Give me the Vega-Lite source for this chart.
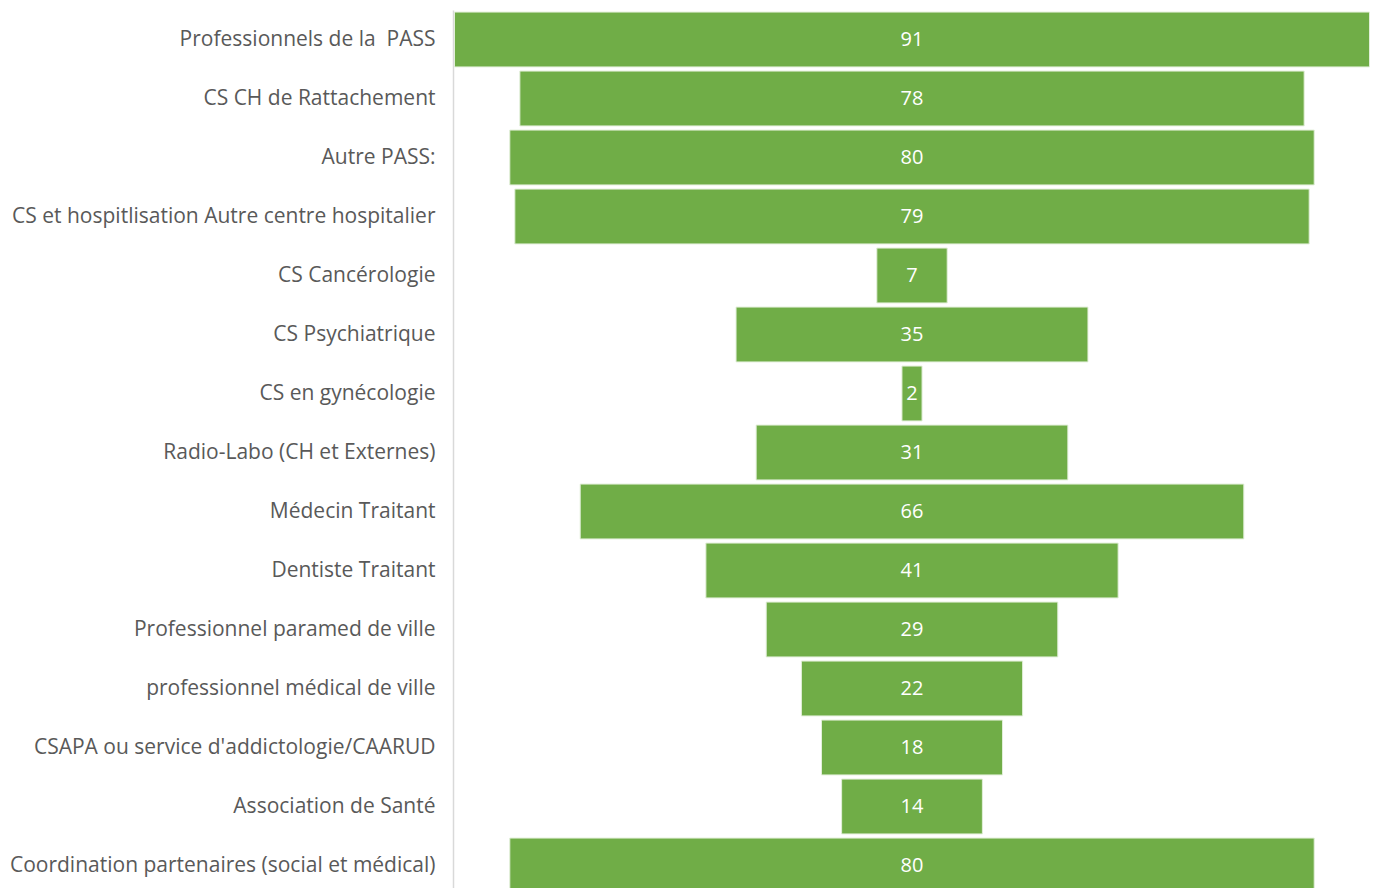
{
  "$schema": "https://vega.github.io/schema/vega-lite/v6.json",
  "autosize": "none",
  "width": 916,
  "height": 878,
  "padding": {"left": 453, "top": 10, "right": 6, "bottom": 0},
  "background": "white",
  "config": {"view": {"stroke": null}, "font": "Open Sans"},
  "data": {"values": [
    {"cat": "Professionnels de la\u00a0 PASS", "n": 91},
    {"cat": "CS CH de Rattachement", "n": 78},
    {"cat": "Autre PASS:", "n": 80},
    {"cat": "CS et hospitlisation Autre centre hospitalier", "n": 79},
    {"cat": "CS Cancérologie", "n": 7},
    {"cat": "CS Psychiatrique", "n": 35},
    {"cat": "CS en gynécologie", "n": 2},
    {"cat": "Radio-Labo (CH et Externes)", "n": 31},
    {"cat": "Médecin Traitant", "n": 66},
    {"cat": "Dentiste Traitant", "n": 41},
    {"cat": "Professionnel paramed de ville", "n": 29},
    {"cat": "professionnel médical de ville", "n": 22},
    {"cat": "CSAPA ou service d'addictologie/CAARUD", "n": 18},
    {"cat": "Association de Santé", "n": 14},
    {"cat": "Coordination partenaires (social et médical)", "n": 80}
  ]},
  "encoding": {
    "y": {"field": "cat", "type": "nominal", "sort": null,
      "scale": {"range": [0, 885], "paddingInner": 0.07, "paddingOuter": 0.035},
      "axis": {"title": null, "ticks": false, "domainColor": "#d9d9d9", "domainWidth": 1.5, "labelFontSize": 21, "labelColor": "#595959", "labelPadding": 18, "labelFont": "Open Sans", "labelLimit": 500}}
  },
  "layer": [
    {
      "mark": {"type": "bar", "color": "#70ad47", "stroke": "#e2efd9", "strokeWidth": 1},
      "encoding": {
        "x": {"field": "n", "type": "quantitative", "stack": "center", "scale": {"domain": [-0.15, 90.95], "nice": false, "zero": false}, "axis": null}
      }
    },
    {
      "mark": {"type": "text", "color": "white", "fontSize": 20, "font": "Open Sans", "baseline": "middle", "align": "center"},
      "encoding": {
        "x": {"datum": 45.5, "type": "quantitative"},
        "text": {"field": "n", "type": "quantitative"}
      }
    }
  ]
}
